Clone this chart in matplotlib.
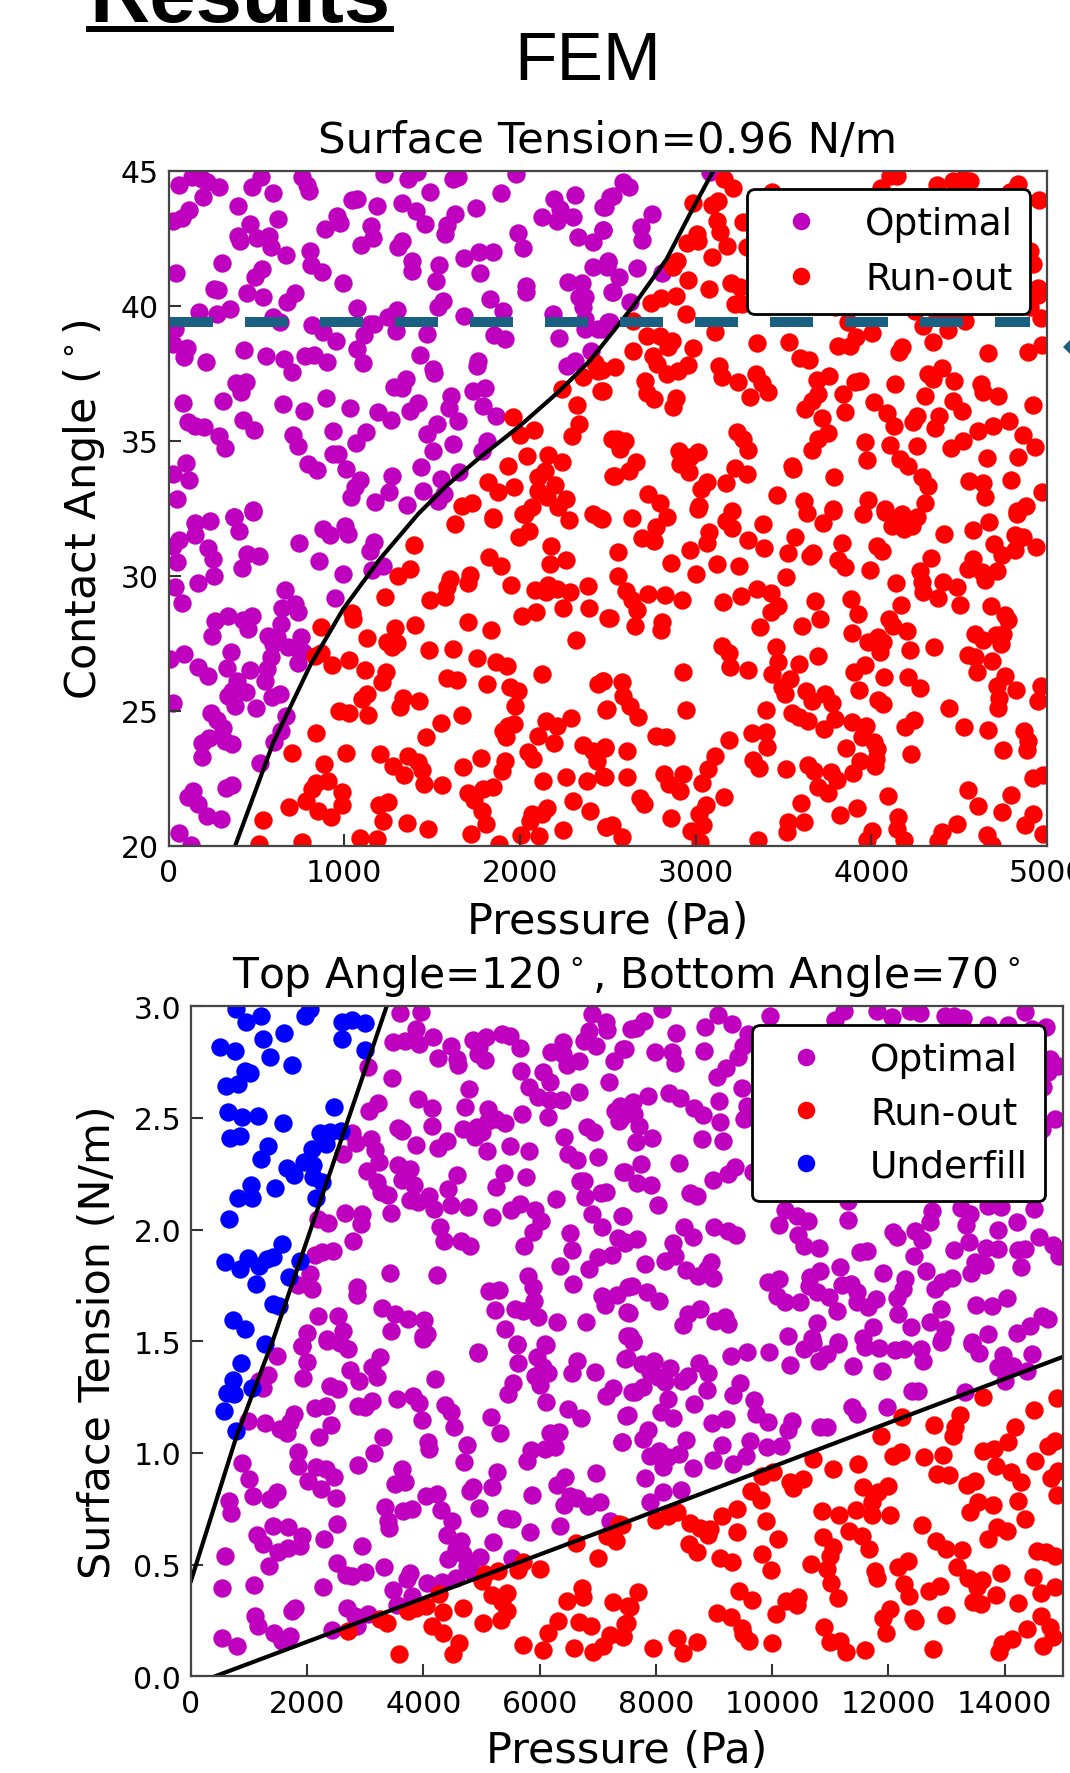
import numpy as np
import matplotlib
matplotlib.use('Agg')
import matplotlib.pyplot as plt
from matplotlib.lines import Line2D
from matplotlib.patches import Polygon

# contact angle vs pressure, surface tension 0.96 N/m
optimal_top = [
(60,44.47),(132,44.76),(189,44.69),(217,44.57),(290,44.39),(199,44.02),(119,43.55),(75,43.25),(24,43.15),(398,43.71),
(474,44.39),(525,44.78),(597,44.16),(758,44.78),(787,44.48),(800,44.24),(464,43.03),(624,43.2),(394,42.6),(407,42.39),
(502,42.5),(574,42.6),(582,42.19),(669,41.88),(305,41.57),(43,41.2),(531,41.36),(493,41.05),(806,42.04),(811,41.52),
(874,41.26),(995,40.84),(261,40.62),(284,40.59),(447,40.46),(540,40.31),(720,40.46),(677,40.14),(176,39.76),(278,39.7),
(350,39.88),(593,39.57),(635,39.41),(817,39.28),(1075,39.92),(1147,39.33),(881,39.02),(952,38.71),(1113,38.9),(1071,38.39),
(1170,39.33),(1251,39.6),(1303,39.86),(1293,39.08),(1470,38.96),(37,39.14),(28,38.59),(104,38.44),(89,38.12),(214,37.93),
(432,38.36),(553,38.14),(660,38.03),(705,37.54),(777,38.13),(828,38.19),(904,37.91),(1109,37.87),(1432,38.19),(1507,37.66),
(1511,37.51),(385,37.14),(440,37.17),(413,36.8),(312,36.49),(85,36.39),(650,36.37),(773,36.09),(895,36.57),(1033,36.2),
(1191,36.06),(1265,35.77),(1286,37.01),(1327,36.96),(1352,37.29),(1418,36.4),(1375,36.09),(1606,36.65),(1597,36.2),(1650,35.72),
(1731,36.86),(1802,36.96),(1792,36.28),(1864,35.93),(113,35.71),(151,35.56),(204,35.5),(422,35.78),(487,35.4),(290,35.16),
(324,34.74),(711,35.22),(739,34.82),(938,35.38),(1122,35.34),(1066,34.91),(1527,35.62),(1470,35.25),(1504,34.64),(1618,34.88),
(1815,35.0),(1783,34.61),(100,34.18),(119,33.56),(24,33.77),(51,32.85),(796,34.14),(847,33.93),(938,34.51),(967,34.51),
(1011,33.96),(1437,34.02),(1654,33.86),(1270,33.69),(1090,33.56),(1062,33.28),(1039,32.91),(1255,33.12),(1176,32.75),(1356,32.63),
(1447,33.13),(1551,33.59),(1568,33.03),(1536,32.79),(483,32.45),(373,32.19),(1043,43.92),(1071,43.95),(1189,43.71),(1327,43.79),
(1229,44.86),(1365,44.69),(1413,44.94),(1488,44.2),(1409,43.49),(1460,43.03),(957,43.34),(976,43.05),(891,42.84),(1151,42.94),
(1166,42.51),(1096,42.26),(1327,42.41),(1308,42.19),(1384,41.67),(1388,41.28),(1540,41.51),(1523,40.93),(1631,43.4),(1583,43.0),
(1574,42.66),(1618,44.69),(1650,44.78),(1748,43.61),(1891,44.18),(1976,44.88),(1684,41.77),(1767,41.98),(1845,41.98),(1773,41.2),
(1988,42.68),(2020,42.13),(2124,43.3),(2194,43.95),(2228,43.58),(2213,43.15),(2300,43.28),(2314,44.11),(2329,42.54),(2414,42.35),
(2471,42.81),(2475,43.65),(2513,44.02),(2503,41.61),(2418,41.42),(2276,40.89),(2352,40.84),(2035,40.75),(2035,40.5),(1564,40.19),
(1536,39.94),(1682,39.61),(1830,40.25),(1906,39.82),(1855,38.93),(1915,38.77),(2190,39.7),(2223,38.8),(2371,40.31),(2338,40.31),
(2357,39.94),(2371,39.51),(2371,39.14),(2447,39.14),(2503,39.39),(2522,40.5),(1760,37.97),(1758,37.78),(2403,38.34),(2314,37.97),
(2270,37.78),(2589,44.57),(2623,44.41),(2532,44.08),(2484,43.65),(2750,43.4),(2687,42.93),(2697,42.44),(2475,42.81),(2503,41.67),
(2494,41.42),(2566,41.08),(2665,41.4),(2532,40.52),(2627,40.15),(2807,41.2),(2513,39.39),(2465,39.14),(3082,44.94),
(151,31.96),(237,32.02),(151,31.52),(62,31.34),(28,31.12),(51,30.5),(227,31.02),(252,30.63),(373,32.17),(402,31.65),
(449,30.81),(515,30.75),(417,30.28),(259,30.01),(170,29.74),(37,29.58),(77,28.99),(743,31.22),(878,31.74),(919,31.53),
(1005,31.86),(1020,31.55),(1170,31.27),(1147,30.91),(857,30.54),(992,30.07),(1219,30.38),(1157,30.23),(948,29.19),(661,29.49),
(720,28.96),(648,28.82),(735,28.65),(641,28.22),(477,28.51),(426,28.35),(455,28.04),(337,28.51),(265,28.32),(246,27.79),
(565,27.79),(616,27.73),(754,27.73),(597,27.48),(682,27.36),(739,27.3),(768,27.17),(354,27.2),(89,27.09),(9,26.93),
(584,26.99),(735,26.77),(170,26.62),(223,26.29),(331,26.6),(464,26.5),(559,26.56),(550,26.12),(388,26.1),(364,25.75),
(341,25.55),(441,25.69),(379,25.2),(498,25.11),(587,25.53),(635,25.63),(24,25.3),(242,24.93),(278,24.68),(312,24.37),
(669,24.83),(639,24.27),(603,23.84),(233,23.99),(193,23.81),(322,23.9),(360,23.76),(191,23.29),(521,23.07),(360,22.24),
(326,22.15),(138,22.02),(109,21.81),(166,21.56),(218,21.1),(299,21.0),(60,20.47),(126,20.02),(483,32.38)]

runout_top = [
(3162,44.69),(3215,44.36),(2987,43.79),(3129,43.89),(3091,43.74),(3124,43.15),(3139,42.72),(3177,42.23),(3006,42.66),(2953,42.33),
(3012,42.39),(3091,41.82),(3268,43.09),(2892,41.67),(2873,41.42),(2959,40.96),(3078,40.62),(3200,40.84),(3253,40.68),(3224,40.07),
(3262,40.07),(2889,40.35),(2803,40.28),(2744,40.09),(2945,39.7),(2646,39.45),(2722,38.89),(2797,38.87),(2864,38.71),(2845,38.46),
(2987,38.44),(3110,39.04),(3348,38.62),(3533,38.67),(2646,38.31),(2760,38.13),(2778,37.85),(2835,37.48),(2902,37.57),(2959,37.81),
(2541,37.72),(2465,37.62),(2712,37.23),(2722,36.76),(2765,36.53),(2889,36.58),(2870,36.27),(3135,37.78),(3148,37.35),(3243,37.17),
(3344,37.48),(3376,37.14),(3414,36.8),(3310,36.61),(2471,36.86),(3594,38.07),(3647,38.01),(3689,37.27),(3761,37.39),(3809,38.52),
(3879,38.5),(3913,38.83),(4002,38.98),(3869,39.39),(4173,38.46),(4158,38.28),(4353,38.67),(4292,39.24),(4435,39.12),(4533,39.45),
(4666,38.24),(4894,38.28),(4970,38.55),(4964,39.55),(4903,39.94),(4951,40.66),(4956,43.92),(4903,42.04),(4922,41.55),(4951,40.38),
(4837,44.51),(4524,44.69),(4562,44.63),(4467,44.61),(4372,44.48),(4144,44.82),(4106,44.82),(4053,44.36),(3437,44.2),(4789,44.2),
(3291,42.16),(4249,39.82),(3793,39.94),(4467,39.7),(4372,39.7),(3841,36.74),(3699,36.74),(3661,36.49),(3623,36.18),(3850,36.06),
(3721,35.85),(3936,37.23),(3907,37.17),(4135,37.1),(4015,36.45),(4087,36.02),(4131,35.56),(4258,35.93),(4235,35.69),(4306,36.67),
(4325,37.48),(4349,37.29),(4400,37.69),(4472,37.23),(4463,36.46),(4514,36.12),(4387,35.91),(4364,35.46),(4624,37.1),(4634,36.82),
(4723,36.67),(4918,36.34),(4786,35.75),(4694,35.54),(4605,35.38),(4520,35.0),(4452,34.72),(4262,34.82),(4106,34.85),(3964,34.95),
(3974,34.29),(4163,34.33),(4211,34.06),(4287,33.65),(4325,33.34),(4657,34.35),(4861,35.22),(4932,34.76),(4837,34.39),(4793,33.55),
(4558,33.5),(4638,33.44),(4647,32.91),(4970,33.1),(3755,35.28),(3699,35.07),(3664,34.66),(3547,34.08),(3556,33.96),(3790,33.65),
(3234,35.32),(3272,35.07),(3296,34.67),(2907,34.64),(3016,34.58),(2968,34.39),(2911,34.14),(2964,33.84),(3224,34.0),(3291,33.77),
(2551,35.07),(2598,35.0),(2570,34.7),(2661,34.23),(2623,33.9),(2541,33.71),(3063,33.49),(3031,33.22),(3171,33.44),(2731,33.03),
(2797,32.7),(3019,32.6),(3465,32.99),(3617,32.79),(3780,32.48),(3983,32.81),(4078,32.48),(4173,32.29),(4306,32.69),(3205,32.42),
(4880,32.6),(4827,32.42),(1959,35.87),(2001,35.23),(2082,35.41),(2238,36.92),(2361,37.35),(2446,37.6),(2428,37.87),(2462,36.86),
(2327,36.33),(2335,35.62),(2297,35.16),(1931,34.06),(2042,34.45),(2162,34.48),(2242,34.23),(2143,33.87),(2105,33.65),(1820,33.49),
(1874,33.09),(1969,33.28),(2200,33.37),(2101,33.16),(2152,32.91),(2262,32.85),(2219,32.54),(1726,32.7),(1669,32.6),(2067,32.54),
(2020,32.29),(2532,33.71),(2522,35.07),(2418,32.29),(1845,32.17),(1397,31.16),(1631,31.92),(1845,32.11),(1375,30.24),(1305,29.99),
(1997,31.43),(2054,31.65),(2175,31.12),(2261,30.57),(2171,30.44),(2282,32.07),(2456,32.13),(2029,32.3),(1824,30.69),(1891,30.35),
(1950,29.67),(2086,29.48),(2149,29.4),(2162,29.67),(2209,29.52),(2285,29.4),(2390,29.64),(2247,28.82),(2393,28.8),(2500,28.45),
(2092,28.68),(2010,28.53),(1602,29.89),(1583,29.58),(1574,29.21),(1489,29.09),(1716,30.05),(1707,29.74),(1232,29.23),(1047,28.63),
(1052,28.41),(866,28.12),(1289,28.07),(1403,28.19),(1707,28.28),(1836,28.01),(1132,27.69),(1242,27.54),(1299,27.51),(1270,27.38),
(1483,27.24),(1621,27.3),(2319,27.64),(1754,26.95),(1864,26.83),(1929,26.66),(2128,26.37),(868,27.15),(834,27.03),(929,26.71),
(1029,26.87),(1119,26.53),(1238,26.43),(1214,26.06),(1587,26.22),(1640,26.15),(1811,25.98),(1944,25.9),(1991,25.73),(1972,25.2),
(2475,26.1),(2446,26.0),(2490,25.05),(1128,25.63),(1100,25.45),(1337,25.48),(1318,25.14),(1426,25.36),(971,24.99),(1028,24.93),
(1138,24.85),(1669,24.85),(1549,24.56),(1464,24.05),(838,24.17),(705,23.43),(1009,23.43),(1204,23.41),(885,23.04),(1365,23.35),
(1422,23.1),(1441,22.83),(1276,22.98),(1343,22.61),(1456,22.3),(1559,22.27),(1674,22.92),(1777,23.26),(1915,23.13),(1896,22.76),
(1849,22.2),(1792,22.11),(1707,21.97),(1741,21.72),(1786,21.31),(1807,20.8),(1722,20.45),(1881,20.08),(2006,20.39),(2109,20.36),
(2247,20.6),(2058,20.94),(2067,21.19),(2124,21.19),(2156,21.41),(2304,21.65),(2399,21.29),(2490,20.7),(2130,22.42),(2261,22.57),
(2380,22.4),(2475,22.58),(2048,23.47),(2077,23.23),(2196,23.82),(2101,24.09),(2149,24.64),(2209,24.46),(2291,24.73),(1967,24.52),
(1934,24.46),(1906,24.24),(1921,24.03),(2361,23.74),(2418,23.53),(2485,23.66),(2437,23.16),(840,22.34),(910,22.4),(986,22.0),
(986,21.53),(781,21.68),(853,21.3),(923,21.07),(815,22.11),(686,21.44),(540,20.97),(1248,21.62),(1200,21.5),(1223,20.92),
(1356,20.84),(1475,20.63),(1090,20.29),(1185,20.26),(762,20.14),(515,20.08),
(2465,32.11),(2636,32.15),(2835,32.17),(2775,31.8),(2697,31.39),(2765,31.28),(3016,32.48),(2560,30.88),(3076,31.64),(3063,31.22),
(2968,30.96),(2858,30.48),(3120,30.44),(3000,30.07),(3249,30.38),(2557,29.98),(3173,32.05),(3209,31.78),(3386,31.92),(3300,31.31),
(3391,31.04),(3566,31.43),(3524,30.84),(3632,32.33),(3727,31.96),(3780,32.42),(3951,32.29),(4078,32.38),(3651,30.75),(3670,30.85),
(3831,31.21),(3812,30.6),(3850,30.32),(4031,31.12),(4059,30.91),(3993,30.22),(3513,29.95),(4116,31.86),(4188,31.74),(4230,31.86),
(4258,32.17),(4173,32.17),(4416,31.55),(4581,31.7),(4670,32.0),(4827,32.3),(4818,31.52),(4865,31.43),(4700,31.18),(4742,30.78),
(4818,30.96),(4937,31.06),(4340,30.67),(4277,30.17),(4287,29.77),(4296,29.4),(4378,29.17),(4410,29.79),(4490,29.6),(4140,29.74),
(4169,28.94),(4505,28.93),(4577,30.63),(4552,30.26),(4628,30.14),(4713,30.17),(4647,29.85),(4681,28.88),(4761,28.56),(4780,28.37),
(4590,27.85),(4638,27.64),(4708,27.82),(4751,27.85),(4738,27.48),(4548,27.07),(4590,27.01),(4689,26.84),(4600,26.43),(4761,26.31),
(4714,25.94),(4727,25.48),(4719,25.11),(4822,25.78),(4964,25.94),(4947,25.35),(4442,25.1),(4529,24.4),(4666,24.3),(4869,24.27),
(4894,23.9),(4884,23.57),(4748,23.57),(4359,27.36),(4220,27.26),(4211,26.27),(4277,25.84),(4072,26.25),(3932,25.79),(3903,26.46),
(3964,26.71),(4040,25.4),(4068,25.26),(4201,27.95),(4101,28.41),(4125,28.16),(4040,27.73),(3983,27.57),(4068,27.54),(4049,27.2),
(3888,27.89),(3926,28.58),(3883,29.15),(3680,29.06),(3708,28.41),(3604,28.16),(3368,28.09),(3348,29.52),(3427,29.36),(3471,28.88),
(3427,28.65),(3257,29.27),(3154,29.02),(2921,29.11),(2826,29.3),(2727,29.33),(2602,29.43),(2640,29.09),(2668,28.72),(2513,28.45),
(2655,28.14),(2811,28.28),(2803,27.98),(3148,27.42),(3190,27.14),(3196,26.62),(3300,26.52),(2930,26.43),(3456,27.36),(3471,26.83),
(3590,26.74),(3699,27.03),(3437,26.35),(3537,26.19),(3490,25.88),(3509,25.63),(3628,25.75),(3661,25.38),(3736,25.61),(3774,25.29),
(3401,25.05),(3551,24.92),(3589,24.77),(3642,24.61),(3793,24.71),(3888,24.58),(3968,24.46),(3731,24.34),(3945,24.03),(4015,23.84),
(4031,23.6),(4025,23.23),(3856,23.62),(3936,23.14),(4021,22.98),(3894,22.7),(4192,24.42),(4245,24.67),(4224,23.39),(2475,26.09),
(2579,26.06),(2589,25.55),(2627,25.17),(2670,24.79),(2494,25.08),(2944,25.03),(2775,24.09),(2830,24.03),(2484,23.63),(2608,23.5),
(3192,23.94),(3323,24.17),(3399,24.21),(3405,23.66),(3110,23.32),(3073,22.85),(3325,23.2),(3363,22.88),(3515,22.85),(3642,23.0),
(3674,22.76),(3771,22.73),(3807,22.45),(3699,22.18),(3752,21.97),(2484,22.57),(2612,22.55),(2822,22.67),(2930,22.65),(2849,22.3),
(2911,22.05),(3038,22.32),(3164,21.83),(2684,21.77),(2708,21.56),(3057,21.53),(3017,21.19),(2860,21.04),(3044,20.78),(2972,20.57),
(3600,21.6),(3822,21.16),(3917,21.41),(4093,21.84),(4150,21.09),(4144,20.63),(4186,20.23),(3528,20.9),(3617,20.88),(3518,20.51),
(3357,20.24),(3025,20.14),(4002,20.55),(3974,20.24),(2522,20.76),(2490,20.7),(2583,20.32),(4548,22.09),(4609,21.47),(4793,21.89),
(4746,21.25),(4922,22.51),(4975,22.63),(4922,21.19),(4875,20.76),(4486,20.82),(4400,20.53),(4381,20.18),(4660,20.41),(4685,20.02),
(4979,20.45)]

boundary_top_x = [379, 597, 806, 995, 1204, 1422, 1583, 1773, 2001, 2228, 2399, 2513, 2646, 2835, 2968, 3101]
boundary_top_y = [20, 23.84, 26.68, 28.78, 30.63, 32.3, 33.34, 34.39, 35.56, 36.86, 37.97, 38.9, 40.0, 41.73, 43.4, 45]

# surface tension vs pressure, top angle 120, bottom angle 70
underfill_bot = [
(775,2.988),(947,2.928),(1205,2.955),(1962,2.958),(2048,2.988),(2604,2.931),(2765,2.939),(2994,2.924),(1606,2.88),(1245,2.854),
(2593,2.854),(2994,2.806),(499,2.819),(757,2.801),(1360,2.774),(1733,2.739),(929,2.712),(1016,2.7),(815,2.652),(603,2.642),
(2467,2.55),(631,2.528),(884,2.506),(1147,2.507),(1589,2.476),(2220,2.431),(2392,2.438),(2576,2.443),(671,2.41),(843,2.421),
(2318,2.383),(1331,2.373),(2088,2.361),(1199,2.316),(1945,2.301),(2105,2.291),(1658,2.274),(1773,2.246),(2105,2.234),(2249,2.212),
(1033,2.2),(1446,2.188),(815,2.14),(1044,2.143),(2151,2.14),(660,2.047),(1572,1.935),(585,1.853),(975,1.873),(843,1.823),
(1170,1.838),(1302,1.868),(1406,1.876),(1876,1.861),(1687,1.789),(1113,1.756),(1417,1.667),(1520,1.656),(717,1.596),(929,1.555),
(1274,1.487),(861,1.401),(729,1.327),(614,1.268),(740,1.264),(1056,1.291),(574,1.189),(775,1.097)]

optimal_bot = [
(3597,2.968),(3952,2.976),(3872,2.898),(3482,2.839),(3683,2.843),(3929,2.831),(4159,2.864),(4474,2.824),(4245,2.767),(4572,2.764),
(4600,2.737),(4847,2.85),(5071,2.861),(4956,2.816),(4933,2.786),(5059,2.759),(5346,2.876),(5490,2.868),(5662,2.813),(5679,2.712),
(6063,2.704),(6178,2.66),(5817,2.64),(5977,2.592),(6178,2.58),(6390,2.58),(6683,2.618),(7199,2.66),(4778,2.63),(3052,2.727),
(3465,2.677),(3901,2.585),(4142,2.543),(4715,2.547),(3212,2.565),(3069,2.53),(5117,2.54),(5690,2.518),(6149,2.506),(6906,2.966),
(7136,2.928),(7165,2.894),(6855,2.891),(6763,2.846),(6970,2.824),(6396,2.839),(6195,2.797),(6407,2.786),(6677,2.757),(6465,2.739),
(7285,2.757),(7440,2.809),(7572,2.898),(7383,2.555),(7296,2.533),(7365,2.488),(7526,2.547),(6820,2.458),(6941,2.438),(6425,2.416),
(6482,2.338),(6637,2.313),(6998,2.324),(7440,2.259),(3568,2.453),(3625,2.443),(4142,2.462),(4687,2.45),(4916,2.458),(5117,2.488),
(5002,2.438),(4887,2.413),(5249,2.495),(5404,2.477),(3872,2.38),(4400,2.398),(4256,2.364),(5088,2.353),(5490,2.376),(5817,2.35),
(2765,2.431),(2840,2.388),(2622,2.338),(3092,2.406),(3167,2.358),(3241,2.301),(3023,2.261),(3568,2.291),(3769,2.271),(3625,2.222),
(3843,2.201),(4583,2.246),(5386,2.252),(5243,2.189),(5759,2.234),(3195,2.212),(3270,2.17),(3396,2.155),(4417,2.182),(3769,2.132),
(3912,2.122),(4102,2.152),(4182,2.092),(4469,2.112),(4773,2.103),(6769,2.219),(6700,2.219),(7142,2.167),(7050,2.164),(6276,2.137),
(6780,2.144),(6906,2.07),(7067,2.013),(7423,2.062),(5507,2.089),(5662,2.115),(5920,2.089),(6023,2.04),(5880,1.99),(5736,1.928),
(5186,2.055),(6522,1.985),(6551,1.908),(7354,1.961),(7469,1.943),(7251,1.886),(7010,1.876),(6855,1.823),(6350,1.838),(2650,2.074),
(2191,2.047),(2363,2.028),(2949,2.07),(2926,2.025),(3436,2.073),(2794,1.95),(4285,2.013),(4360,1.95),(4641,1.947),(4801,1.925),
(2134,1.886),(2249,1.898),(2450,1.903),(2048,1.801),(1847,1.752),(2077,1.734),(3425,1.805),(4228,1.798),(2862,1.741),(2851,1.707),
(5134,1.723),(5306,1.729),(5794,1.793),(5891,1.741),(5909,1.682),(6579,1.756),(7067,1.701),(7337,1.707),(7124,1.664),(7526,1.741),
(7509,1.629),(5232,1.64),(5576,1.644),(5719,1.637),(5977,1.607),(6293,1.585),(6797,1.585),(3281,1.649),(3511,1.622),(3740,1.6),
(4016,1.595),(3436,1.547),(3987,1.522),(4056,1.532),(5404,1.555),(2191,1.614),(2536,1.614),(2002,1.535),(2622,1.544),(2335,1.51),
(1905,1.48),(5604,1.487),(6092,1.487),(4933,1.45),(7497,1.525),
(1474,1.436),(1905,1.477),(2335,1.503),(2564,1.492),(2696,1.465),(2002,1.409),(3253,1.428),(2736,1.373),(3109,1.383),(3195,1.342),
(2891,1.321),(1922,1.334),(1331,1.349),(1170,1.324),(1245,1.291),(2392,1.301),(2536,1.286),(4199,1.331),(4933,1.446),(3998,1.51),
(5604,1.483),(6103,1.483),(5633,1.401),(5949,1.428),(6063,1.383),(5920,1.346),(6138,1.356),(6006,1.306),(5536,1.312),(5461,1.264),
(6637,1.41),(6551,1.356),(6952,1.361),(7268,1.289),(7136,1.256),(7468,1.421),(7583,1.271),(6103,1.229),(6493,1.197),(6711,1.156),
(7480,1.167),(7411,1.047),(3109,1.234),(2994,1.204),(2880,1.212),(3539,1.241),(3826,1.253),(3924,1.222),(3970,1.149),(4371,1.216),
(4469,1.182),(4532,1.115),(4744,1.037),(4704,0.958),(5157,1.162),(5318,1.088),(2134,1.2),(2323,1.209),(1778,1.174),(1704,1.14),
(1274,1.134),(1532,1.107),(1647,1.088),(987,1.144),(2404,1.127),(2203,1.07),(3310,1.07),(4084,1.048),(4102,1.018),(3155,0.998),
(2868,0.947),(1836,1.003),(1847,0.943),(884,0.953),(2151,0.935),(2318,0.928),(2467,0.894),(2019,0.876),(2237,0.838),(2490,0.797),
(1004,0.883),(1061,0.809),(660,0.786),(689,0.729),(1360,0.794),(1474,0.823),(3637,0.928),(3511,0.861),(3683,0.871),(4044,0.806),
(4228,0.816),(4302,0.746),(3809,0.749),(3654,0.738),(3339,0.759),(3396,0.697),(3408,0.664),(4497,0.694),(4400,0.632),(4647,0.604),
(4560,0.57),(4687,0.547),(4429,0.525),(4973,0.532),(4744,0.495),(4830,0.465),(5203,0.6),(5530,0.528),(4859,0.849),(4801,0.831),
(5260,0.913),(5174,0.846),(4956,0.753),(5415,0.708),(5518,0.704),(5834,0.647),(6350,0.674),(5862,0.813),(5788,0.962),(5845,1.013),
(6092,1.018),(6264,1.025),(6178,1.088),(6333,1.095),(6436,0.894),(6293,0.856),(6970,0.909),(6522,0.809),(6637,0.797),(6419,0.768),
(6838,0.764),(7038,0.779),(7210,0.694),(1406,0.671),(1664,0.667),(1905,0.629),(1130,0.634),(1245,0.592),(1876,0.585),(1675,0.574),
(1503,0.555),(1343,0.495),(585,0.54),(2289,0.614),(2518,0.682),(2937,0.585),(2507,0.507),(2662,0.453),(2777,0.447),(2994,0.465),
(3322,0.488),(3769,0.461),(3711,0.435),(2278,0.402),(1084,0.41),(539,0.395),(3471,0.388),(3809,0.358),(4067,0.416),(4314,0.423),
(4554,0.44),(3539,0.319),(1790,0.308),(1744,0.293),(1102,0.271),(1159,0.223),(2691,0.308),(2822,0.271),(3052,0.279),(2851,0.226),
(528,0.171),(786,0.134),(1429,0.196),(1560,0.159),(1704,0.179),(2421,0.208),
(8099,2.988),(7795,2.936),(7652,2.901),(7468,2.809),(8346,2.88),(7984,2.797),(8271,2.794),(8328,2.746),(8845,2.906),(9063,2.963),
(9304,2.921),(8827,2.801),(9963,2.955),(11082,2.94),(11237,2.98),(11810,2.98),(12057,2.95),(12372,2.98),(12544,2.97),(12975,2.955),
(13135,2.955),(13290,2.946),(13709,2.916),(14064,2.918),(14351,2.973),(14713,2.906),(14466,2.898),(9590,2.876),(9493,2.824),(9418,2.771),
(9206,2.724),(9045,2.682),(9476,2.633),(9562,2.555),(9516,2.495),(9086,2.574),(9103,2.48),(8231,2.61),(8414,2.589),(8655,2.544),
(8816,2.515),(7858,2.597),(7600,2.57),(7623,2.518),(7715,2.465),(7411,2.503),(7938,2.409),(7652,2.391),(8787,2.406),(9160,2.398),
(7743,2.294),(8403,2.298),(7468,2.259),(9361,2.279),(9246,2.249),(8988,2.224),(9676,2.256),(7680,2.207),(7910,2.2),(8587,2.164),
(8701,2.152),(8030,2.11),(7439,2.062),(10221,2.088),(10422,2.062),(10611,2.037),(10124,2.022),(10451,1.977),(10554,1.925),(10806,1.917),
(11300,2.043),(11311,2.13),(8489,2.01),(8632,1.968),(9005,2.01),(9246,1.995),(9372,1.976),(7669,1.958),(7468,1.938),(8288,1.938),
(8328,1.883),(8156,1.858),(7812,1.846),(8512,1.82),(8718,1.793),(8942,1.853),(8873,1.823),(8988,1.782),(7583,1.746),(7841,1.719),
(8059,1.682),(7543,1.626),(8759,1.644),(8558,1.622),(8460,1.573),(9017,1.592),(9189,1.607),(9246,1.577),(7554,1.525),(7611,1.502),
(9934,1.764),(10124,1.778),(10078,1.704),(10221,1.674),(10479,1.674),(10634,1.746),(10652,1.786),(10823,1.813),(10766,1.719),(10984,1.7),
(11168,1.834),(11196,1.752),(11357,1.756),(11466,1.719),(11455,1.674),(11655,1.652),(11787,1.689),(11110,1.634),(11913,1.808),(12086,1.988),
(12143,1.965),(12458,1.995),(12573,1.955),(12716,2.033),(12745,2.085),(13250,2.097),(13405,2.07),(13330,2.02),(13720,2.107),(13938,2.1),
(14512,2.092),(13881,2.0),(14208,2.033),(13393,1.943),(13674,1.92),(13892,1.913),(13135,1.91),(12447,1.883),(11512,1.902),(11638,1.905),
(12648,1.816),(12286,1.778),(12258,1.734),(12143,1.696),(12172,1.622),(13089,1.782),(12917,1.767),(12802,1.734),(13491,1.853),(13663,1.841),
(13416,1.808),(14351,1.913),(14237,1.91),(14282,1.831),(14598,1.965),(14839,1.931),(14942,1.883),(13508,1.662),(13778,1.659),(14047,1.696),
(12900,1.644),(12717,1.588),(12390,1.566),(11741,1.562),(11569,1.517),(10766,1.58),(10279,1.525),(10680,1.517),(11139,1.495),(12975,1.555),
(12917,1.51),(13720,1.532),(13433,1.495),(14208,1.535),(14437,1.569),(14638,1.614),(14753,1.6),(14781,2.764),(14925,2.734),(14753,2.704),
(14868,2.495),(14667,2.637),(14638,2.45),
(7600,1.495),(7497,1.424),(7755,1.398),(7973,1.413),(7898,1.361),(8242,1.379),(8042,1.338),(8156,1.316),(7772,1.297),(7640,1.271),
(8443,1.324),(8558,1.343),(8747,1.403),(8902,1.356),(8873,1.283),(8214,1.242),(8655,1.219),(8088,1.185),(8300,1.156),(7525,1.17),
(7870,1.104),(7784,1.062),(7411,1.047),(8518,1.059),(8959,1.132),(9200,1.152),(9131,1.037),(9447,1.312),(9321,1.259),(9694,1.237),
(9722,1.174),(9935,1.14),(10336,1.144),(10267,1.104),(9619,1.055),(9906,1.025),(10147,1.03),(9292,1.433),(9562,1.453),(9952,1.45),
(10307,1.395),(10548,1.465),(10709,1.492),(10938,1.443),(10806,1.413),(11139,1.488),(11386,1.388),(11598,1.473),(11845,1.47),(12114,1.462),
(12269,1.465),(12562,1.465),(12602,1.413),(11896,1.368),(12906,1.495),(13433,1.488),(13565,1.448),(13979,1.439),(14477,1.443),(13892,1.383),
(14151,1.391),(14391,1.368),(14007,1.324),(12401,1.279),(12504,1.279),(13319,1.271),(11369,1.207),(11466,1.174),(11971,1.204),(10824,1.118),
(10938,1.118),(8059,1.01),(7898,0.988),(8116,0.936),(8214,0.98),(8403,0.995),(8632,0.932),(8977,0.97),(9550,0.988),(9332,0.95),
(7812,0.886),(8128,0.826),(8432,0.834),(7898,0.779)]

runout_bot = [
(2708,0.204),(3253,0.256),(3367,0.237),(3740,0.293),(3872,0.308),(4039,0.316),(4274,0.368),(4342,0.29),(4675,0.304),(4153,0.226),
(4342,0.196),(4618,0.149),(4515,0.1),(3585,0.102),(5002,0.428),(5059,0.458),(5289,0.47),(5622,0.476),(5719,0.513),(6006,0.48),
(6625,0.597),(5186,0.364),(5432,0.373),(5346,0.331),(5444,0.294),(5329,0.252),(5031,0.238),(7010,0.528),(7153,0.629),(7308,0.607),
(7371,0.682),(6723,0.395),(6751,0.356),(6465,0.338),(7268,0.331),(7526,0.316),(6310,0.246),(6677,0.241),(6878,0.226),(6149,0.193),
(5719,0.141),(6052,0.117),(6597,0.126),(6924,0.111),(7084,0.137),(7210,0.186),(7440,0.181),(7468,0.234),
(13634,1.249),(14896,1.244),(14506,1.194),(12240,1.159),(13233,1.17),(12791,1.127),(13147,1.115),(13107,1.077),(14179,1.115),(11868,1.074),
(14064,1.047),(13818,1.018),(13623,1.01),(14868,1.055),(14753,1.032),(12217,1.006),(12074,0.988),(12619,0.983),(12946,0.99),(13847,0.943),
(14523,0.962),(10709,0.973),(11053,0.928),(11483,0.95),(14104,0.916),(14282,0.868),(14925,0.92),(14793,0.888),(12831,0.905),(13043,0.901),
(13491,0.873),(13359,0.858),(9820,0.898),(10009,0.917),(10525,0.883),(10307,0.868),(10353,0.842),(11569,0.849),(12000,0.853),(11827,0.823),
(9636,0.831),(9808,0.789),(11713,0.779),(14237,0.786),(14908,0.812),(13548,0.779),(13795,0.767),(13405,0.734),(10852,0.741),(11151,0.722),
(11437,0.746),(11713,0.723),(12028,0.722),(9390,0.749),(9143,0.719),(9889,0.697),(8369,0.734),(8202,0.719),(7996,0.701),(7411,0.677),
(8587,0.686),(8759,0.664),(8931,0.659),(8902,0.632),(9401,0.644),(10107,0.617),(14351,0.704),(12573,0.677),(13863,0.667),(14036,0.652),
(13720,0.617),(10881,0.622),(11328,0.649),(11541,0.629),(11673,0.57),(12820,0.607),(12986,0.57),(13262,0.567),(14552,0.562),(14713,0.555),
(14868,0.537),(8575,0.592),(8713,0.555),(9831,0.547),(9103,0.529),(9304,0.51),(11042,0.577),(10996,0.54),(10669,0.505),(10950,0.48),
(9975,0.476),(12344,0.517),(12160,0.491),(13176,0.488),(11770,0.47),(11810,0.44),(11013,0.416),(13365,0.438),(13605,0.432),(13938,0.461),
(14494,0.443),(12275,0.413),(12889,0.405),(12705,0.383),(13520,0.398),(13847,0.365),(14621,0.373),(14868,0.401),(12355,0.358),(13462,0.334),
(13588,0.323),(14237,0.326),(7697,0.378),(7554,0.311),(9430,0.38),(9659,0.341),(10233,0.338),(10439,0.353),(10422,0.32),(11139,0.349),
(10061,0.279),(9057,0.283),(9286,0.267),(9487,0.216),(9504,0.189),(9602,0.159),(7497,0.237),(7439,0.178),(12028,0.301),(11913,0.259),
(11954,0.196),(12430,0.259),(12458,0.249),(12992,0.276),(10898,0.222),(10996,0.152),(11168,0.159),(11271,0.11),(11598,0.117),(9992,0.147),
(7956,0.126),(8369,0.17),(8713,0.155),(8472,0.104),(12774,0.122),(14621,0.271),(14781,0.219),(14391,0.214),(14839,0.174),(14667,0.134),
(14122,0.167),(13950,0.144),(13910,0.107)]

upper_line_x = [0, 786, 1417, 3367]
upper_line_y = [0.428, 1.077, 1.51, 3.0]
lower_line_x = [413, 7555, 15000]
lower_line_y = [0, 0.697, 1.43]

top_xticks = [0, 1000, 2000, 3000, 4000, 5000]
top_yticks = [20, 25, 30, 35, 40, 45]
bot_xticks = [0, 2000, 4000, 6000, 8000, 10000, 12000, 14000]
bot_yticks = [0.0, 0.5, 1.0, 1.5, 2.0, 2.5, 3.0]

W, H = 1070, 1774
PURPLE, RED, BLUE = '#bf00bf', '#ff0000', '#0000ff'
TEAL = '#1a6082'
SIZE = 175


def px_axes(fig, left, top, right, bottom):
    return fig.add_axes([left / W, 1 - bottom / H, (right - left) / W, (bottom - top) / H])


def scatter(ax, pts, color):
    pts = np.array(pts)
    ax.scatter(pts[:, 0], pts[:, 1], s=SIZE, c=color, linewidths=0)


def style(ax, xticks, yticks):
    ax.set_xticks(xticks)
    ax.set_yticks(yticks)
    ax.tick_params(direction='in', length=8.5, width=1.5, color='#333333', labelsize=21.5, pad=7)
    ax.tick_params(axis='x', pad=9)
    for s in ax.spines.values():
        s.set_linewidth(1.6)
        s.set_color('#444444')


def legend(ax, labels, colors, anchor, spacing):
    handles = [Line2D([], [], ls='none', marker='o', ms=12.6, mec='none', mfc=c) for c in colors]
    leg = ax.legend(handles, labels, loc='upper left', bbox_to_anchor=anchor, bbox_transform=ax.figure.transFigure,
                    fontsize=27, frameon=True, framealpha=1, fancybox=True, edgecolor='black', borderaxespad=0,
                    handletextpad=0.7, labelspacing=spacing, borderpad=0.45)
    leg.get_frame().set_linewidth(2)


fig = plt.figure(figsize=(W / 100, H / 100), dpi=100)

ax1 = px_axes(fig, 168.5, 171.7, 1047, 847)
scatter(ax1, optimal_top, PURPLE)
scatter(ax1, runout_top, RED)
ax1.plot(boundary_top_x, boundary_top_y, color='black', lw=3)
ax1.set_xlim(0, 5000)
ax1.set_ylim(20, 45)
style(ax1, top_xticks, top_yticks)
ax1.set_xlabel('Pressure (Pa)', fontsize=31, labelpad=9)
ax1.set_ylabel(r'Contact Angle ($^\circ$)', fontsize=31, labelpad=10)
ax1.set_title('Surface Tension=0.96 N/m', fontsize=31.3, pad=13.5)
legend(ax1, ['Optimal', 'Run-out'], [PURPLE, RED], (747 / W, 1 - 190 / H), 0.5)

ax2 = px_axes(fig, 191, 1007.3, 1062.7, 1677.3)
scatter(ax2, optimal_bot, PURPLE)
scatter(ax2, runout_bot, RED)
scatter(ax2, underfill_bot, BLUE)
ax2.plot(upper_line_x, upper_line_y, color='black', lw=3)
ax2.plot(lower_line_x, lower_line_y, color='black', lw=3)
ax2.set_xlim(0, 15000)
ax2.set_ylim(0, 3)
style(ax2, bot_xticks, bot_yticks)
ax2.set_xlabel('Pressure (Pa)', fontsize=31, labelpad=8)
ax2.set_ylabel('Surface Tension (N/m)', fontsize=31, labelpad=10.5)
ax2.set_title(r'Top Angle=120$^\circ$, Bottom Angle=70$^\circ$', fontsize=30.5, pad=14)
legend(ax2, ['Optimal', 'Run-out', 'Underfill'], [PURPLE, RED, BLUE], (752 / W, 1 - 1026 / H), 0.46)

# slide overlays
y_dash = 1 - 323 / H
fig.add_artist(Line2D([170 / W, 1030 / W], [y_dash, y_dash], color=TEAL, lw=7.2, ls=(0, (4.3, 3.2)), zorder=10))
fig.add_artist(Polygon([[1063 / W, 1 - 348 / H], [1070 / W, 1 - 341 / H], [1070 / W, 1 - 355 / H]],
                       closed=True, color=TEAL, transform=fig.transFigure, lw=0))
fig.text(588 / W, 1 - 80 / H, 'FEM', family='Liberation Sans', fontsize=50, ha='center', va='baseline')
fig.text(89 / W, 1 - 22 / H, 'Results', family='Liberation Sans', weight='bold', fontsize=60, ha='left', va='baseline')
fig.add_artist(Line2D([86 / W, 394 / W], [1 - 30 / H, 1 - 30 / H], color='black', lw=4.3, solid_capstyle='butt'))

fig.savefig('out.png', dpi=100)
